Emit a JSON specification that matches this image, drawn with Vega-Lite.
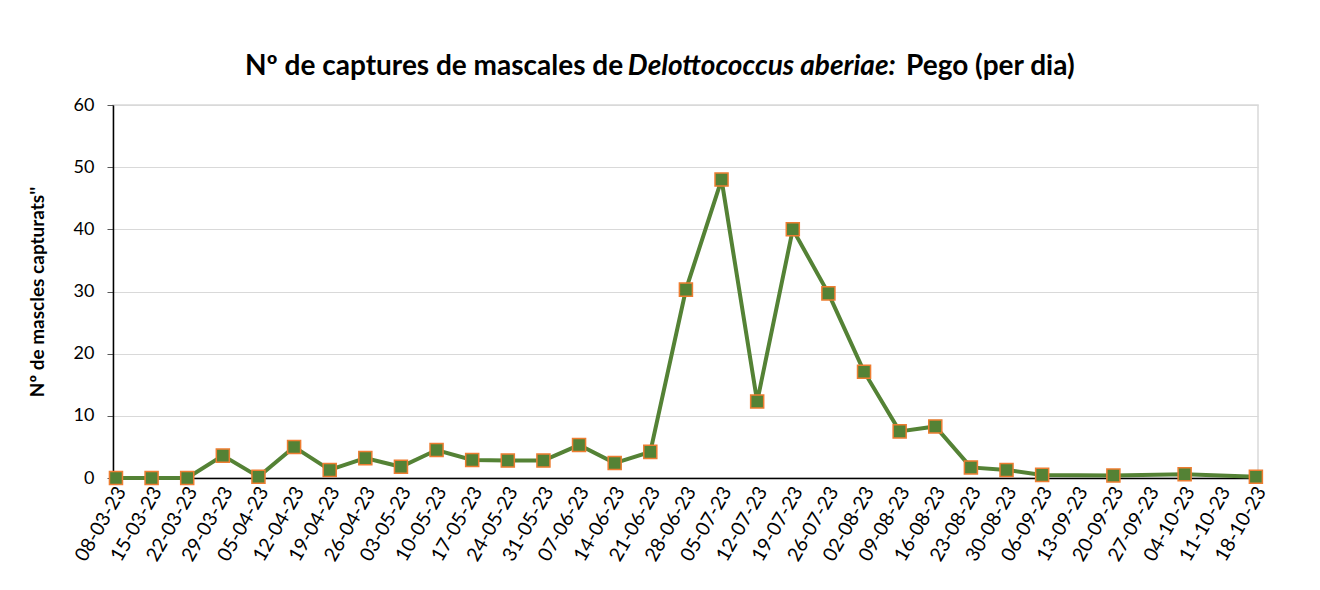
{
  "$schema": "https://vega.github.io/schema/vega-lite/v6.json",
  "width": 1145,
  "height": 373,
  "autosize": {"type": "none"},
  "padding": {"left": 113, "top": 105, "right": 62, "bottom": 112},
  "background": "#ffffff",
  "config": {
    "font": "Lato",
    "view": {"stroke": "#d9d9d9", "strokeWidth": 1.5}
  },
  "title": {
    "text": "Nº de captures de mascales de \u2003\u2003\u2003\u2003\u2003\u2003\u2003\u2003\u2003\u2003\u2003\u2003\u2009\u2009\u2009\u00a0\u00a0Pego (per dia)",
    "subtitle": "\u200b\u2003\u2003\u2003\u2003\u2003\u2003\u2003\u2003\u2003\u2003\u2003\u2003\u2003\u2003\u2003\u2003\u2003\u2003\u2003\u2009\u2009\u2009\u00a0Delottococcus aberiae:",
    "anchor": "start",
    "frame": "group",
    "dx": 132,
    "offset": 15,
    "font": "Lato",
    "fontSize": 28,
    "fontWeight": "bold",
    "color": "#000000",
    "subtitleFont": "Lato",
    "subtitleFontSize": 28,
    "subtitleFontWeight": "bold",
    "subtitleFontStyle": "italic",
    "subtitleColor": "#000000",
    "subtitlePadding": -28
  },
  "data": {
    "values": [
      {"fecha": "2023-03-08T00:00:00", "capturas": 0},
      {"fecha": "2023-03-15T00:00:00", "capturas": 0},
      {"fecha": "2023-03-22T00:00:00", "capturas": 0},
      {"fecha": "2023-03-29T00:00:00", "capturas": 3.6},
      {"fecha": "2023-04-05T00:00:00", "capturas": 0.2},
      {"fecha": "2023-04-12T00:00:00", "capturas": 5.0},
      {"fecha": "2023-04-19T00:00:00", "capturas": 1.3},
      {"fecha": "2023-04-26T00:00:00", "capturas": 3.2},
      {"fecha": "2023-05-03T00:00:00", "capturas": 1.8},
      {"fecha": "2023-05-10T00:00:00", "capturas": 4.5},
      {"fecha": "2023-05-17T00:00:00", "capturas": 2.9},
      {"fecha": "2023-05-24T00:00:00", "capturas": 2.8},
      {"fecha": "2023-05-31T00:00:00", "capturas": 2.8},
      {"fecha": "2023-06-07T00:00:00", "capturas": 5.3},
      {"fecha": "2023-06-14T00:00:00", "capturas": 2.4},
      {"fecha": "2023-06-21T00:00:00", "capturas": 4.2},
      {"fecha": "2023-06-28T00:00:00", "capturas": 30.3},
      {"fecha": "2023-07-05T00:00:00", "capturas": 48.0},
      {"fecha": "2023-07-12T00:00:00", "capturas": 12.3},
      {"fecha": "2023-07-19T00:00:00", "capturas": 40.0},
      {"fecha": "2023-07-26T00:00:00", "capturas": 29.7},
      {"fecha": "2023-08-02T00:00:00", "capturas": 17.1},
      {"fecha": "2023-08-09T00:00:00", "capturas": 7.5},
      {"fecha": "2023-08-16T00:00:00", "capturas": 8.3},
      {"fecha": "2023-08-23T00:00:00", "capturas": 1.7},
      {"fecha": "2023-08-30T00:00:00", "capturas": 1.3},
      {"fecha": "2023-09-06T00:00:00", "capturas": 0.5},
      {"fecha": "2023-09-20T00:00:00", "capturas": 0.4},
      {"fecha": "2023-10-04T00:00:00", "capturas": 0.6},
      {"fecha": "2023-10-18T00:00:00", "capturas": 0.2}
    ]
  },
  "encoding": {
    "x": {
      "field": "fecha",
      "type": "temporal",
      "scale": {
        "type": "time",
        "domain": [
          {"year": 2023, "month": 3, "date": 7, "hours": 10},
          {"year": 2023, "month": 10, "date": 18, "hours": 10}
        ]
      },
      "axis": {
        "title": null,
        "format": "%d-%m-%y",
        "labelAngle": -60,
        "labelAlign": "right",
        "labelBaseline": "middle",
        "labelPadding": 10,
        "labelOffset": 5,
        "labelFontSize": 19.5,
        "labelColor": "#000000",
        "labelFont": "Lato",
        "labelOverlap": false,
        "labelFlush": false,
        "ticks": false,
        "grid": false,
        "domainColor": "#000000",
        "domainWidth": 1.5,
        "values": [
          {"year": 2023, "month": 3, "date": 8},
          {"year": 2023, "month": 3, "date": 15},
          {"year": 2023, "month": 3, "date": 22},
          {"year": 2023, "month": 3, "date": 29},
          {"year": 2023, "month": 4, "date": 5},
          {"year": 2023, "month": 4, "date": 12},
          {"year": 2023, "month": 4, "date": 19},
          {"year": 2023, "month": 4, "date": 26},
          {"year": 2023, "month": 5, "date": 3},
          {"year": 2023, "month": 5, "date": 10},
          {"year": 2023, "month": 5, "date": 17},
          {"year": 2023, "month": 5, "date": 24},
          {"year": 2023, "month": 5, "date": 31},
          {"year": 2023, "month": 6, "date": 7},
          {"year": 2023, "month": 6, "date": 14},
          {"year": 2023, "month": 6, "date": 21},
          {"year": 2023, "month": 6, "date": 28},
          {"year": 2023, "month": 7, "date": 5},
          {"year": 2023, "month": 7, "date": 12},
          {"year": 2023, "month": 7, "date": 19},
          {"year": 2023, "month": 7, "date": 26},
          {"year": 2023, "month": 8, "date": 2},
          {"year": 2023, "month": 8, "date": 9},
          {"year": 2023, "month": 8, "date": 16},
          {"year": 2023, "month": 8, "date": 23},
          {"year": 2023, "month": 8, "date": 30},
          {"year": 2023, "month": 9, "date": 6},
          {"year": 2023, "month": 9, "date": 13},
          {"year": 2023, "month": 9, "date": 20},
          {"year": 2023, "month": 9, "date": 27},
          {"year": 2023, "month": 10, "date": 4},
          {"year": 2023, "month": 10, "date": 11},
          {"year": 2023, "month": 10, "date": 18}
        ]
      }
    },
    "y": {
      "field": "capturas",
      "type": "quantitative",
      "scale": {"domain": [0, 60], "nice": false, "zero": true},
      "axis": {
        "title": "Nº de mascles capturats''",
        "titleFont": "Lato",
        "titleFontSize": 19,
        "titleFontWeight": "bold",
        "titleColor": "#000000",
        "titlePadding": 26,
        "values": [0, 10, 20, 30, 40, 50, 60],
        "labelFontSize": 18,
        "labelColor": "#000000",
        "labelFont": "Lato",
        "labelPadding": 13,
        "tickSize": 6,
        "tickColor": "#595959",
        "domainColor": "#000000",
        "domainWidth": 1.5,
        "gridColor": "#d9d9d9",
        "gridWidth": 1
      }
    }
  },
  "layer": [
    {
      "mark": {"type": "line", "color": "#548235", "strokeWidth": 4, "clip": false}
    },
    {
      "mark": {
        "type": "point",
        "shape": "square",
        "filled": true,
        "size": 170,
        "fill": "#548235",
        "stroke": "#ED7D31",
        "strokeWidth": 1.5,
        "opacity": 1,
        "clip": false
      }
    }
  ]
}
